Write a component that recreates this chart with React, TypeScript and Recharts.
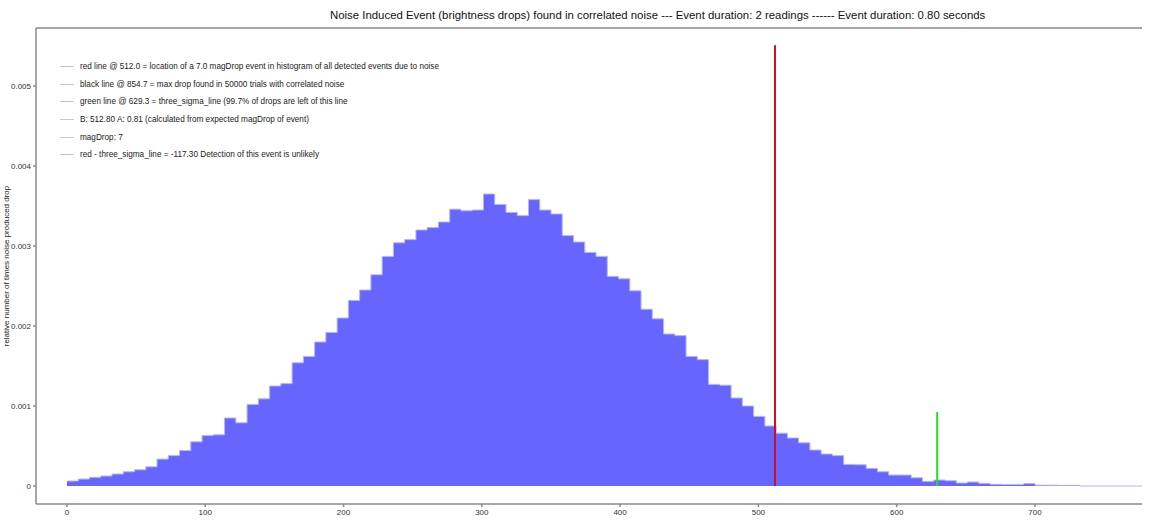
import { Area, ComposedChart, ReferenceLine, XAxis, YAxis } from 'recharts';

const title =
  'Noise Induced Event (brightness drops) found in correlated noise --- Event duration: 2 readings ------ Event duration: 0.80 seconds';

const legendLines = [
  'red line @ 512.0 = location of a 7.0 magDrop event in histogram of all detected events due to noise',
  'black line @ 854.7 = max drop found in 50000 trials with correlated noise',
  'green line @ 629.3 = three_sigma_line (99.7% of drops are left of this line',
  'B: 512.80 A: 0.81 (calculated from expected magDrop of event)',
  'magDrop: 7',
  'red - three_sigma_line = -117.30 Detection of this event is unlikely',
];

// histogram: 105 bins from 0 to the max drop, only the visible ones listed
const maxDrop = 854.7;
const binCount = 105;
const density = [
  0.000062, 0.000087, 0.000108, 0.000125, 0.00015, 0.000178, 0.000203, 0.00024,
  0.000336, 0.00038, 0.000444, 0.000552, 0.00063, 0.00064, 0.00085, 0.00079,
  0.00102, 0.00109, 0.00125, 0.00128, 0.00154, 0.00162, 0.0018, 0.00192,
  0.0021, 0.00232, 0.00245, 0.00264, 0.00287, 0.00304, 0.00308, 0.0032,
  0.00323, 0.0033, 0.00346, 0.00344, 0.00345, 0.00365, 0.00352, 0.00342,
  0.00338, 0.00358, 0.00345, 0.0034, 0.00313, 0.00305, 0.00292, 0.00287,
  0.00262, 0.00259, 0.00244, 0.00221, 0.00209, 0.0019, 0.00188, 0.00162,
  0.00158, 0.00127, 0.00126, 0.0011, 0.001, 0.00087, 0.00075, 0.00066,
  0.0006, 0.00054, 0.00045, 0.0004, 0.00038, 0.00027, 0.000266, 0.00022,
  0.000178, 0.000137, 0.000137, 0.000103, 0.000058, 0.000075, 0.000066, 0.000037,
  0.00005, 0.000033, 0.000021, 0.000017, 0.000017, 0.00003, 0.00001, 0.00001,
  0.000008, 0.000008, 0, 0, 0, 0, 0, 0,
];

const xTicks = [0, 100, 200, 300, 400, 500, 600, 700];
const yTicks = [0, 0.001, 0.002, 0.003, 0.004, 0.005];

const redLineAt = 512.0;
const redLineTop = 0.00551;
const greenLineAt = 629.3;
const greenLineTop = 0.000925;

const xDomain = [-22.4, 777.4];
const yDomain = [-0.000225, 0.005725];

const binWidth = maxDrop / binCount;
const chartData = density
  .map((d, i) => ({ drop: i * binWidth, density: d }))
  .concat([{ drop: density.length * binWidth, density: density[density.length - 1] }]);

const font = '"Liberation Sans", Arial, sans-serif';
const axisColor = '#8a8a8a';

export default function App() {
  return (
    <div
      style={{
        position: 'absolute',
        left: 0,
        top: 0,
        width: 1152,
        height: 525,
        background: '#fff',
        fontFamily: font,
        overflow: 'hidden',
      }}
    >
      <ComposedChart
        width={1152}
        height={525}
        data={chartData}
        margin={{ top: 28, right: 10, bottom: 0, left: 0 }}
      >
        <XAxis
          dataKey="drop"
          type="number"
          domain={xDomain}
          allowDataOverflow
          ticks={xTicks}
          height={21}
          stroke={axisColor}
          strokeWidth={1.5}
          tickSize={3}
          tick={{ fontSize: 8, fill: '#333', fontFamily: font }}
        />
        <YAxis
          type="number"
          domain={yDomain}
          allowDataOverflow
          ticks={yTicks}
          width={36}
          stroke={axisColor}
          strokeWidth={1.5}
          tickSize={3}
          tickFormatter={(v: number) => (v === 0 ? '0' : v.toFixed(3))}
          tick={{ fontSize: 8, fill: '#333', fontFamily: font }}
          label={{
            value: 'relative number of times noise produced drop',
            angle: -90,
            position: 'insideLeft',
            offset: 6,
            style: { fontSize: 8, fill: '#222', fontFamily: font, textAnchor: 'middle' },
          }}
        />
        <ReferenceLine y={yDomain[1]} stroke={axisColor} strokeWidth={1.5} />
        <Area
          type="stepAfter"
          dataKey="density"
          stroke="#b4b4ff"
          strokeWidth={1}
          fill="#6666ff"
          fillOpacity={1}
          dot={false}
          activeDot={false}
          isAnimationActive={false}
        />
        <ReferenceLine
          segment={[
            { x: redLineAt, y: 0 },
            { x: redLineAt, y: redLineTop },
          ]}
          stroke="#cc1122"
          strokeWidth={2}
        />
        <ReferenceLine
          segment={[
            { x: greenLineAt, y: 0 },
            { x: greenLineAt, y: greenLineTop },
          ]}
          stroke="#22dd22"
          strokeWidth={2}
        />
      </ComposedChart>

      <div
        style={{
          position: 'absolute',
          left: 330,
          top: 9,
          fontSize: 11.4,
          color: '#111',
          whiteSpace: 'nowrap',
        }}
      >
        {title}
      </div>

      <div style={{ position: 'absolute', left: 60, top: 58 }}>
        {legendLines.map((line) => (
          <div
            key={line}
            style={{
              display: 'flex',
              alignItems: 'center',
              height: 17.6,
              fontSize: 8.2,
              color: '#222',
              whiteSpace: 'nowrap',
            }}
          >
            <span
              style={{
                display: 'inline-block',
                width: 14,
                height: 1,
                background: '#c8c8c8',
                marginRight: 6,
              }}
            />
            {line}
          </div>
        ))}
      </div>
    </div>
  );
}
